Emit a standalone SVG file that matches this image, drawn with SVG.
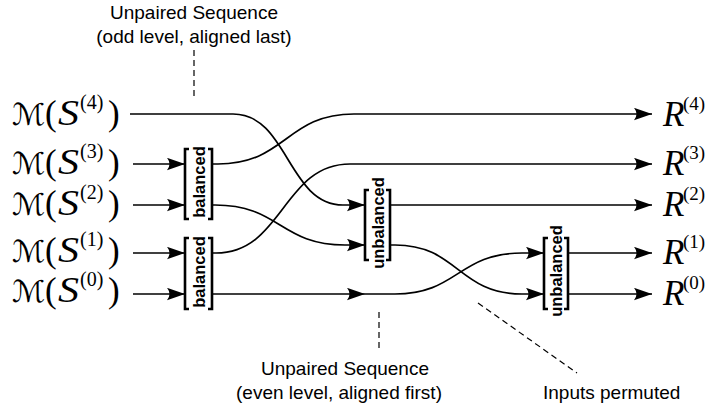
<svg xmlns="http://www.w3.org/2000/svg" width="705" height="406" viewBox="0 0 705 406">
<style>
.wire{fill:none;stroke:#000;stroke-width:1.7}
.arr{marker-end:url(#ah)}
.brk{fill:none;stroke:#000;stroke-width:2.6}
.blab{font-family:"Liberation Sans",Arial,sans-serif;font-weight:bold;font-size:16.5px;text-anchor:middle;fill:#000}
.note{font-family:"Liberation Sans",Arial,sans-serif;font-size:19px;fill:#000}
.dash{fill:none;stroke:#000;stroke-width:1.2;stroke-dasharray:6 4}
.cal{font-family:"DejaVu Sans","DejaVu Serif",serif;font-size:30px;fill:#000}
.mi{font-family:"Liberation Serif","Times New Roman",serif;font-style:italic;font-size:35px;fill:#000}
.par{font-family:"Liberation Serif","Times New Roman",serif;font-size:35px;fill:#000}
.sup{font-family:"Liberation Serif","Times New Roman",serif;font-size:20px;fill:#000}
.rsup{font-family:"Liberation Serif","Times New Roman",serif;font-size:19px;fill:#000}
</style>
<defs>
<marker id="ah" markerUnits="userSpaceOnUse" markerWidth="20" markerHeight="14" refX="18" refY="6.5" orient="auto">
<path d="M0,0.3 L18,6.5 L0,12.7 Q5,6.5 0,0.3 Z" fill="#000"/>
</marker>
</defs>
<rect width="705" height="406" fill="#fff"/>

<g id="connectors">
<path class="wire" d="M130,114 H233 C288,114 288,205 343,205 H365" marker-end="url(#ah)"/>
<path class="wire arr" d="M133,164 H185"/>
<path class="wire arr" d="M133,205 H185"/>
<path class="wire arr" d="M133,253 H185"/>
<path class="wire arr" d="M133,294 H185"/>
<path class="wire arr" d="M212,164 H218 C286,164 286,114 354,114 H652"/>
<path class="wire arr" d="M212,253 H216 C283,253 283,164 350,164 H652"/>
<path class="wire arr" d="M212,205 H215 C280,205 280,245 345,245 H365"/>
<path class="wire arr" d="M212,294 H365"/>
<path class="wire arr" d="M365,294 H395 C458,294 458,253 522,253 H544"/>
<path class="wire arr" d="M390,205 H652"/>
<path class="wire arr" d="M390,245 H395 C458,245 458,294 522,294 H544"/>
<path class="wire arr" d="M568,253 H652"/>
<path class="wire arr" d="M568,294 H652"/>
</g>

<g id="in4"><text class="cal" x="12" y="125" textLength="33" lengthAdjust="spacingAndGlyphs">ℳ</text><text class="par" x="45" y="125">(</text><text class="mi" x="58" y="125" textLength="21" lengthAdjust="spacingAndGlyphs">S</text><text class="sup" x="80" y="109">(4)</text><text class="par" x="108" y="125">)</text></g>
<g id="in3"><text class="cal" x="12" y="174" textLength="33" lengthAdjust="spacingAndGlyphs">ℳ</text><text class="par" x="45" y="174">(</text><text class="mi" x="58" y="174" textLength="21" lengthAdjust="spacingAndGlyphs">S</text><text class="sup" x="80" y="158">(3)</text><text class="par" x="108" y="174">)</text></g>
<g id="in2"><text class="cal" x="12" y="215" textLength="33" lengthAdjust="spacingAndGlyphs">ℳ</text><text class="par" x="45" y="215">(</text><text class="mi" x="58" y="215" textLength="21" lengthAdjust="spacingAndGlyphs">S</text><text class="sup" x="80" y="199">(2)</text><text class="par" x="108" y="215">)</text></g>
<g id="in1"><text class="cal" x="12" y="262" textLength="33" lengthAdjust="spacingAndGlyphs">ℳ</text><text class="par" x="45" y="262">(</text><text class="mi" x="58" y="262" textLength="21" lengthAdjust="spacingAndGlyphs">S</text><text class="sup" x="80" y="246">(1)</text><text class="par" x="108" y="262">)</text></g>
<g id="in0"><text class="cal" x="12" y="302" textLength="33" lengthAdjust="spacingAndGlyphs">ℳ</text><text class="par" x="45" y="302">(</text><text class="mi" x="58" y="302" textLength="21" lengthAdjust="spacingAndGlyphs">S</text><text class="sup" x="80" y="286">(0)</text><text class="par" x="108" y="302">)</text></g>

<g id="bal1">
<path class="brk" d="M189,149 H185 V219 H189 M208,149 H212 V219 H208"/>
<text class="blab" transform="translate(205,182) rotate(-90)">balanced</text>
</g>
<g id="bal2">
<path class="brk" d="M189,238 H185 V309 H189 M208,238 H212 V309 H208"/>
<text class="blab" transform="translate(205,272) rotate(-90)">balanced</text>
</g>
<g id="unbal1">
<path class="brk" d="M369,190 H365 V260 H369 M386,190 H390 V260 H386"/>
<text class="blab" transform="translate(383.5,223) rotate(-90)">unbalanced</text>
</g>
<g id="unbal2">
<path class="brk" d="M548,238 H544 V309 H548 M564,238 H568 V309 H564"/>
<text class="blab" transform="translate(562,271) rotate(-90)">unbalanced</text>
</g>

<g id="out4"><text class="mi" x="663" y="126">R</text><text class="rsup" x="683" y="110">(4)</text></g>
<g id="out3"><text class="mi" x="663" y="175">R</text><text class="rsup" x="683" y="159">(3)</text></g>
<g id="out2"><text class="mi" x="663" y="216">R</text><text class="rsup" x="683" y="200">(2)</text></g>
<g id="out1"><text class="mi" x="663" y="264">R</text><text class="rsup" x="683" y="248">(1)</text></g>
<g id="out0"><text class="mi" x="663" y="305">R</text><text class="rsup" x="683" y="289">(0)</text></g>

<g id="note-odd">
<text class="note" x="194" y="19" text-anchor="middle">Unpaired Sequence</text>
<text class="note" x="194" y="43" text-anchor="middle">(odd level, aligned last)</text>
<path class="dash" d="M194,50 V99"/>
</g>
<g id="note-even">
<path class="dash" d="M379,312 V352"/>
<text class="note" x="345" y="375" text-anchor="middle">Unpaired Sequence</text>
<text class="note" x="339" y="399" text-anchor="middle">(even level, aligned first)</text>
</g>
<g id="note-perm">
<path class="dash" d="M478,303 L577,373"/>
<text class="note" x="543" y="399">Inputs permuted</text>
</g>
</svg>
